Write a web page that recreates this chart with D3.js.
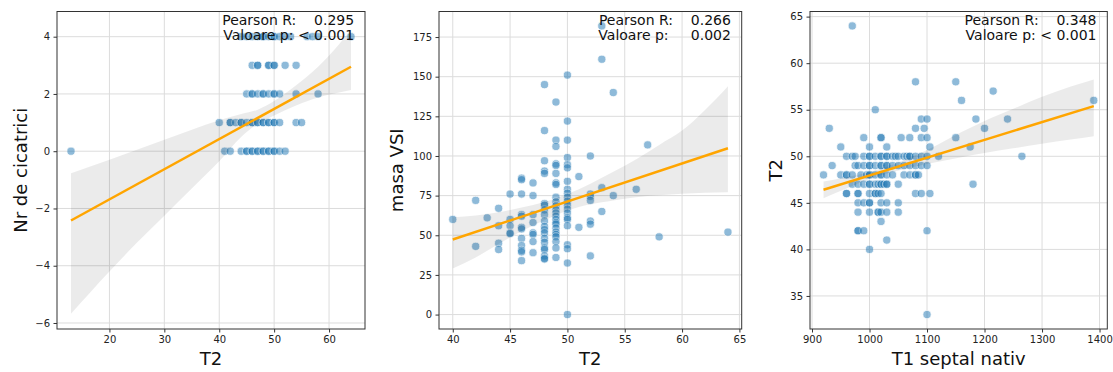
<!DOCTYPE html>
<html>
<head>
<meta charset="utf-8">
<script src="https://cdn.jsdelivr.net/npm/d3@7"></script>
<style>
body { margin: 0; background: #fff; }
text { font-family: "DejaVu Sans", sans-serif; }
</style>
</head>
<body>
<svg id="chart" width="1113" height="372"></svg>
<script>
// ---- panel 1: T2 vs Nr de cicatrici
var scarPoints = [
  [13,0],[41,0],[42,0],[44,0],[45,0],[45,0],[46,0],[46,0],[47,0],[47,0],[48,0],[48,0],[49,0],[49,0],[50,0],[50,0],[51,0],[52,0],
  [40,1],[42,1],[42,1],[43,1],[44,1],[44,1],[45,1],[46,1],[46,1],[47,1],[47,1],[48,1],[48,1],[49,1],[49,1],[50,1],[50,1],[51,1],[54,1],[55,1],
  [45,2],[46,2],[46,2],[47,2],[48,2],[48,2],[49,2],[50,2],[50,2],[51,2],[54,2],[58,2],
  [46,3],[47,3],[47,3],[49,3],[49,3],[50,3],[50,3],[52,3],[54,3],
  [44,4],[45,4],[46,4],[47,4],[48,4],[48,4],[49,4],[50,4],[50,4],[51,4],[52,4],[53,4],[56,4],[57,4],[58,4],[64,4]
];
var scarFitX = [13, 64];
var scarFitY = [-2.42, 2.95];
var scarBandX  = [13, 20, 25, 30, 35, 40, 44, 47, 50, 54, 58, 61, 64];
var scarBandHi = [-0.77, -0.3, 0.05, 0.4, 0.75, 1.08, 1.3, 1.45, 1.75, 2.3, 2.95, 3.55, 4.25];
var scarBandLo = [-5.68, -4.2, -3.2, -2.25, -1.3, -0.35, 0.5, 0.95, 1.25, 1.6, 1.88, 2.02, 2.14];
var scarXTicks = [20, 30, 40, 50, 60];
var scarYTicks = [-6, -4, -2, 0, 2, 4];

// ---- panel 2: T2 vs masa VSI
var massPoints = [
  [40,60],[42,72],[42,43],[43,61],[44,67],[44,56],[44,45],[44,41],
  [45,76],[45,60],[45,56],[45,51.5],[45,51],
  [46,86],[46,85],[46,76],[46,63],[46,62],[46,55],[46,54],[46,48],[46,43.5],[46,40.5],[46,39.5],[46,34],
  [47,83],[47,75],[47,63],[47,58],[47,51.5],[47,50.5],[47,46],[47,39],
  [48,145],[48,116],[48,97],[48,90.5],[48,89],[48,70],[48,69],[48,66],[48,63],[48,59],[48,55.5],[48,53.5],
  [48,51.5],[48,48],[48,45.5],[48,42],[48,41],[48,37],[48,35.5],[48,35],
  [49,134],[49,110],[49,106],[49,95],[49,94],[49,89],[49,83],[49,82],[49,74],[49,71],[49,68.5],[49,66],
  [49,64],[49,62],[49,60],[49,58],[49,57],[49,54.5],[49,52],[49,50.5],[49,49],[49,46],[49,42],[49,36],
  [50,151],[50,122],[50,110],[50,99],[50,94.5],[50,92.5],[50,84],[50,79],[50,76.5],[50,74],[50,71.5],
  [50,69],[50,66.5],[50,64],[50,61],[50,60],[50,56],[50,44],[50,41.5],[50,32.5],[50,0],
  [51,87],[51,55],
  [52,100],[52,76],[52,74.5],[52,72],[52,59],[52,57],[52,37],
  [53,182],[53,161],[53,80],[53,65],
  [54,140],[54,75],[56,79],[57,107],[58,49],[64,52]
];
var massFitX = [40, 64];
var massFitY = [47.3, 104.9];
var massBandX  = [40, 42, 44, 46, 48, 50, 52, 54, 56, 58, 60, 62, 64];
var massBandHi = [61.3, 62.5, 64.5, 67.5, 71, 76, 82.5, 90, 98, 107, 116, 129, 144];
var massBandLo = [29, 36, 44.5, 52.5, 59.5, 65.5, 69.5, 72, 74, 75.2, 76.2, 76.8, 77.1];
var massXTicks = [40, 45, 50, 55, 60, 65];
var massYTicks = [0, 25, 50, 75, 100, 125, 150, 175];

// ---- panel 3: T1 septal nativ vs T2
var t1Points = [
  [970,64],[1080,58],[1150,58],[1215,57],[1160,56],[1390,56],[1010,55],
  [1090,54],[1100,54],[1185,54],[1240,54],
  [930,53],[1080,53],[1095,53],[1200,53],
  [990,52],[1020,52],[1020,52],[1055,52],[1070,52],[1090,52],[1100,52],[1150,52],
  [950,51],[1000,51],[1030,51],[1105,51],[1175,51],
  [960,50],[970,50],[975,50],[990,50],[1000,50],[1000,50],[1010,50],[1020,50],[1020,50],[1030,50],[1030,50],
  [1040,50],[1045,50],[1050,50],[1060,50],[1065,50],[1070,50],[1070,50],[1080,50],[1090,50],[1100,50],[1120,50],[1265,50],
  [935,49],[975,49],[980,49],[990,49],[1000,49],[1000,49],[1010,49],[1020,49],[1020,49],[1030,49],[1030,49],
  [1040,49],[1050,49],[1060,49],[1070,49],[1080,49],[1090,49],[1100,49],
  [920,48],[950,48],[960,48],[960,48],[970,48],[985,48],[995,48],[1000,48],[1000,48],[1010,48],[1020,48],
  [1020,48],[1030,48],[1040,48],[1060,48],[1070,48],[1080,48],[1080,48],[1085,48],
  [970,47],[980,47],[990,47],[1000,47],[1000,47],[1010,47],[1015,47],[1020,47],[1020,47],[1025,47],[1030,47],[1030,47],[1050,47],[1180,47],
  [960,46],[960,46],[980,46],[980,46],[1000,46],[1010,46],[1010,46],[1015,46],[1020,46],[1080,46],[1090,46],[1105,46],
  [980,45],[990,45],[1000,45],[1000,45],[1020,45],[1030,45],[1050,45],
  [980,44],[1000,44],[1015,44],[1015,44],[1020,44],[1030,44],[1050,44],
  [1020,43],[980,42],[980,42],[990,42],[1100,42],[1030,41],[1000,40],[1100,33]
];
var t1FitX = [920, 1390];
var t1FitY = [46.41, 55.39];
var t1BandX  = [920, 960, 1000, 1040, 1080, 1120, 1160, 1200, 1250, 1300, 1350, 1390];
var t1BandHi = [47.3, 47.75, 48.3, 49.1, 50.1, 51.3, 52.6, 53.8, 55.1, 56.4, 57.5, 58.26];
var t1BandLo = [45.5, 46.55, 47.55, 48.3, 48.9, 49.4, 49.9, 50.35, 50.85, 51.35, 51.8, 52.16];
var t1XTicks = [900, 1000, 1100, 1200, 1300, 1400];
var t1YTicks = [35, 40, 45, 50, 55, 60, 65];

var xLabels = ["T2", "T2", "T1 septal nativ"];
var yLabels = ["Nr de cicatrici", "masa VSI", "T2"];
var pearsonR = ["0.295", "0.266", "0.348"];
var pValues = [" < 0.001", "     0.002", " < 0.001"];

var svg = d3.select("#chart");

// plain integers, with a real minus sign for negatives
function tickFmt(d) { return d < 0 ? "\u2212" + (-d) : String(d); }

function drawPanel(p) {
  var x = d3.scaleLinear().domain(p.xDomain).range([p.left, p.left + p.width]);
  var y = d3.scaleLinear().domain(p.yDomain).range([p.top + p.height, p.top]);
  var g = svg.append("g");

  // grid
  g.selectAll(".gx").data(p.xTicks).enter().append("line")
    .attr("x1", d => x(d)).attr("x2", d => x(d))
    .attr("y1", p.top).attr("y2", p.top + p.height)
    .attr("stroke", "#dcdcdc").attr("stroke-width", 1);
  g.selectAll(".gy").data(p.yTicks).enter().append("line")
    .attr("y1", d => y(d)).attr("y2", d => y(d))
    .attr("x1", p.left).attr("x2", p.left + p.width)
    .attr("stroke", "#dcdcdc").attr("stroke-width", 1);

  // points
  g.selectAll("circle").data(p.points).enter().append("circle")
    .attr("cx", d => x(d[0])).attr("cy", d => y(d[1]))
    .attr("r", 4.1)
    .attr("fill", "#1f77b4").attr("stroke", "#fff").attr("stroke-width", 0.75)
    .attr("opacity", 0.5);

  // confidence band
  var area = d3.area()
    .x(d => x(d[0])).y0(d => y(d[1])).y1(d => y(d[2]))
    .curve(d3.curveMonotoneX);
  g.append("path")
    .datum(p.bandX.map((v, i) => [v, p.bandLo[i], p.bandHi[i]]))
    .attr("d", area).attr("fill", "#000").attr("fill-opacity", 0.08);

  // regression line
  var line = d3.line().x(d => x(d[0])).y(d => y(d[1]));
  g.append("path")
    .datum(p.fitX.map((v, i) => [v, p.fitY[i]]))
    .attr("d", line).attr("fill", "none")
    .attr("stroke", "#ffa500").attr("stroke-width", 2.5);

  // axes
  var ax = g.append("g")
    .attr("transform", "translate(0," + (p.top + p.height) + ")")
    .call(d3.axisBottom(x).tickValues(p.xTicks).tickFormat(tickFmt).tickSize(3.5).tickPadding(3.5));
  var ay = g.append("g")
    .attr("transform", "translate(" + p.left + ",0)")
    .call(d3.axisLeft(y).tickValues(p.yTicks).tickFormat(tickFmt).tickSize(3.5).tickPadding(3.5));
  [ax, ay].forEach(function(a) {
    a.select(".domain").remove();
    a.selectAll("line").attr("stroke", "#333");
    a.selectAll("text").attr("font-size", 10).attr("fill", "#222")
      .style("font-family", "DejaVu Sans");
  });

  // frame
  g.append("rect")
    .attr("x", p.left).attr("y", p.top)
    .attr("width", p.width).attr("height", p.height)
    .attr("fill", "none").attr("stroke", "#333").attr("stroke-width", 1);

  // labels
  g.append("text")
    .attr("x", p.left + p.width / 2).attr("y", 365)
    .attr("text-anchor", "middle").attr("font-size", 18).attr("fill", "#111")
    .text(p.xLabel);
  g.append("text")
    .attr("transform", "translate(" + p.yLabelX + "," + (p.top + p.height / 2) + ") rotate(-90)")
    .attr("text-anchor", "middle").attr("font-size", 18).attr("fill", "#111")
    .text(p.yLabel);

  // stats annotation
  var sx = p.left + p.width - 10.8;
  g.append("text")
    .attr("x", sx).attr("y", 25).attr("text-anchor", "end")
    .attr("font-size", 14).attr("fill", "#111").style("white-space", "pre")
    .text("Pearson R:    " + p.r);
  g.append("text")
    .attr("x", sx).attr("y", 40).attr("text-anchor", "end")
    .attr("font-size", 14).attr("fill", "#111").style("white-space", "pre")
    .text("Valoare p:" + p.p);
}

drawPanel({
  left: 57, top: 11.5, width: 308, height: 317.5,
  xDomain: [10.45, 66.55], yDomain: [-6.21, 4.88],
  xTicks: scarXTicks, yTicks: scarYTicks, points: scarPoints,
  fitX: scarFitX, fitY: scarFitY, bandX: scarBandX, bandLo: scarBandLo, bandHi: scarBandHi,
  xLabel: xLabels[0], yLabel: yLabels[0], yLabelX: 27, r: pearsonR[0], p: pValues[0]
});
drawPanel({
  left: 439, top: 11.5, width: 302.7, height: 317.5,
  xDomain: [38.8, 65.2], yDomain: [-9.1, 191.1],
  xTicks: massXTicks, yTicks: massYTicks, points: massPoints,
  fitX: massFitX, fitY: massFitY, bandX: massBandX, bandLo: massBandLo, bandHi: massBandHi,
  xLabel: xLabels[1], yLabel: yLabels[1], yLabelX: 403, r: pearsonR[1], p: pValues[1]
});
drawPanel({
  left: 810, top: 11.5, width: 297.3, height: 317.5,
  xDomain: [896.5, 1413.5], yDomain: [31.45, 65.55],
  xTicks: t1XTicks, yTicks: t1YTicks, points: t1Points,
  fitX: t1FitX, fitY: t1FitY, bandX: t1BandX, bandLo: t1BandLo, bandHi: t1BandHi,
  xLabel: xLabels[2], yLabel: yLabels[2], yLabelX: 782, r: pearsonR[2], p: pValues[2]
});
</script>
</body>
</html>
